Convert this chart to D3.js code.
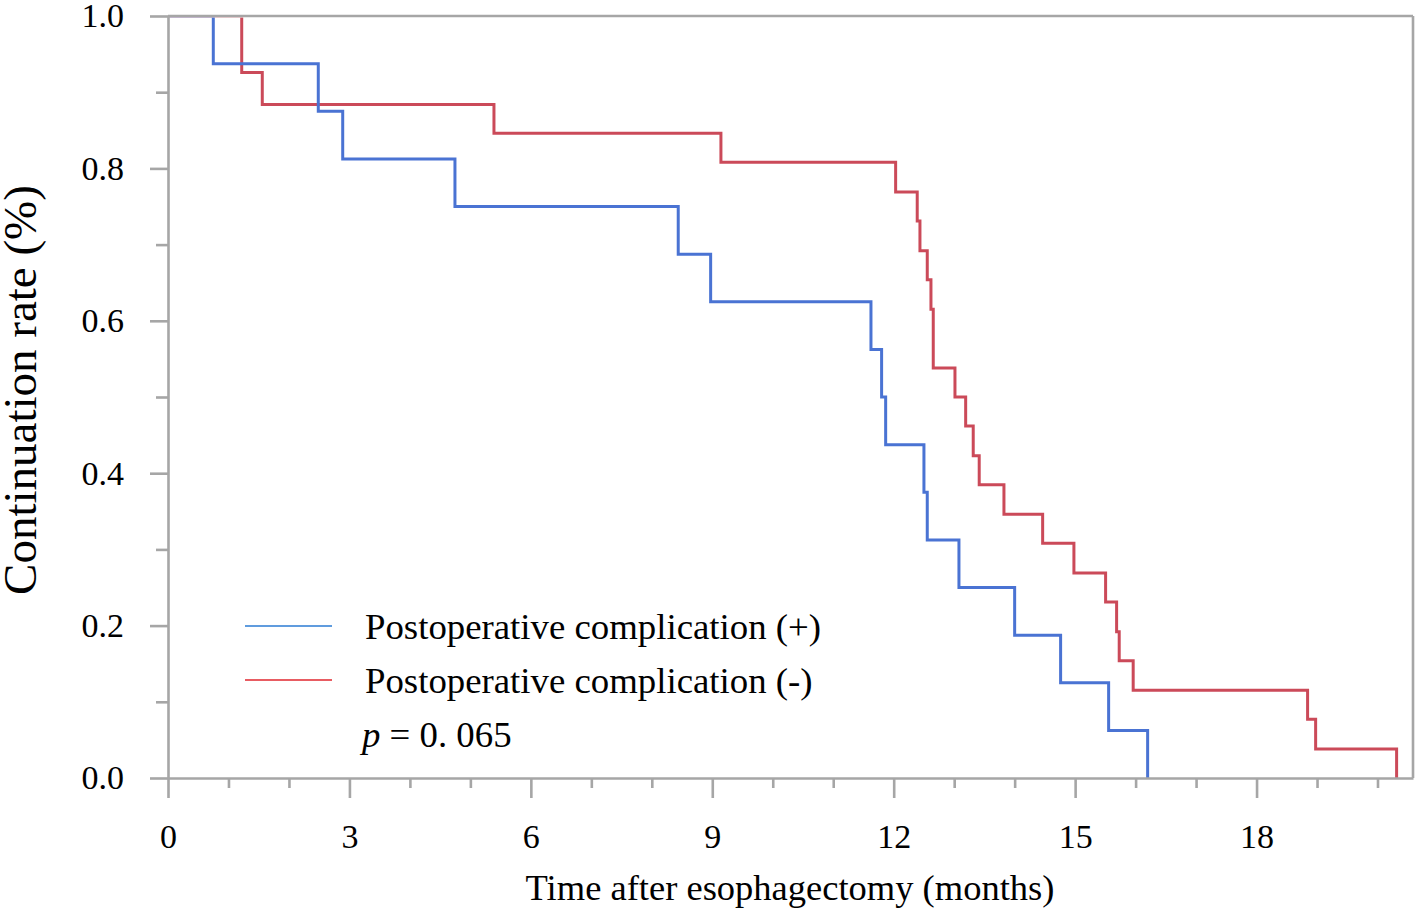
<!DOCTYPE html>
<html>
<head>
<meta charset="utf-8">
<script src="https://cdn.jsdelivr.net/npm/d3@7"></script>
<style>
  html, body { margin: 0; padding: 0; background: #fff; }
  svg { display: block; }
  text { font-family: "Liberation Serif", "Times New Roman", serif; fill: #000; }
</style>
</head>
<body>
<svg id="chart" width="1416" height="908"></svg>
<script>
// ---- Data ----
const bluePlusTimes = [0, 0.749, 2.485, 2.889, 4.745, 8.437, 8.973, 11.624, 11.80, 11.867, 12.50, 12.555, 13.079, 14.0, 14.76, 15.554, 16.199];
const bluePlusSurv  = [1.0, 0.9375, 0.875, 0.8125, 0.75, 0.6875, 0.625, 0.5625, 0.5, 0.4375, 0.375, 0.3125, 0.25, 0.1875, 0.125, 0.0625, 0.0];

const redMinusTimes = [0, 1.219, 1.559, 5.39, 9.143, 12.032, 12.389, 12.434, 12.555, 12.616, 12.654, 13.013, 13.19, 13.315, 13.414, 13.823, 14.463, 14.98, 15.504, 15.686, 15.729, 15.96, 18.844, 18.977, 20.316];
const redMinusSurv  = [1.0, 0.926, 0.884, 0.846, 0.808, 0.769, 0.731, 0.692, 0.654, 0.615, 0.538, 0.5, 0.462, 0.423, 0.385, 0.346, 0.308, 0.269, 0.231, 0.192, 0.154, 0.115, 0.077, 0.038, 0.0];

const xMajorTicks = [0, 3, 6, 9, 12, 15, 18];
const xMinorTicks = [1, 2, 4, 5, 7, 8, 10, 11, 13, 14, 16, 17, 19, 20];
const yMajorTicks = [0, 0.2, 0.4, 0.6, 0.8, 1.0];
const yMinorTicks = [0.1, 0.3, 0.5, 0.7, 0.9];

const seriesNames = ["Postoperative complication (+)", "Postoperative complication (-)"];
const pText = "= 0. 065";
const xTitle = "Time after esophagectomy (months)";
const yTitle = "Continuation rate (%)";

// ---- Layout ----
const svg = d3.select("#chart");
const L = 168, R = 1413, T = 16, B = 778;
const x = d3.scaleLinear().domain([0, 20.587]).range([L, R]);
const y = d3.scaleLinear().domain([0, 1]).range([B, T]);
const axisColor = "#a6a6a6";

svg.append("defs").append("clipPath").attr("id", "plotclip")
  .append("rect").attr("x", L).attr("y", T + 1.5).attr("width", R - L).attr("height", B - T);

// curves
const line = d3.line().x(d => x(d[0])).y(d => y(d[1])).curve(d3.curveStepAfter);
const blueData = bluePlusTimes.map((t, i) => [t, bluePlusSurv[i]]);
const redData = redMinusTimes.map((t, i) => [t, redMinusSurv[i]]);

const plot = svg.append("g").attr("clip-path", "url(#plotclip)");
plot.append("path").datum(redData).attr("d", line)
  .attr("fill", "none").attr("stroke", "#cb4a59").attr("stroke-width", 3);
plot.append("path").datum(blueData).attr("d", line)
  .attr("fill", "none").attr("stroke", "#4a73d3").attr("stroke-width", 3);

// frame top & right
svg.append("line").attr("x1", L).attr("x2", R).attr("y1", T).attr("y2", T)
  .attr("stroke", axisColor).attr("stroke-width", 2.6);
svg.append("line").attr("x1", R).attr("x2", R).attr("y1", T).attr("y2", B)
  .attr("stroke", axisColor).attr("stroke-width", 2.6);

// x axis
svg.append("g").attr("transform", `translate(0,${B})`)
  .call(d3.axisBottom(x).tickValues(xMajorTicks).tickSize(20).tickSizeOuter(0).tickPadding(26).tickFormat(d3.format("d")));
svg.append("g").attr("transform", `translate(0,${B})`)
  .call(d3.axisBottom(x).tickValues(xMinorTicks).tickSize(10).tickSizeOuter(0).tickFormat(""))
  .select(".domain").remove();

// y axis
svg.append("g").attr("transform", `translate(${L},0)`)
  .call(d3.axisLeft(y).tickValues(yMajorTicks).tickSize(18).tickSizeOuter(0).tickPadding(26).tickFormat(d3.format(".1f")));
svg.append("g").attr("transform", `translate(${L},0)`)
  .call(d3.axisLeft(y).tickValues(yMinorTicks).tickSize(12).tickSizeOuter(0).tickFormat(""))
  .select(".domain").remove();

svg.selectAll(".domain, .tick line").attr("stroke", axisColor).attr("stroke-width", 2.6);
svg.selectAll(".tick text").style("font-size", "34px").style("font-family", "'Liberation Serif', 'Times New Roman', serif").attr("fill", "#000");

// axis titles
svg.append("text").attr("x", 790).attr("y", 900).attr("text-anchor", "middle")
  .style("font-size", "36.5px").text(xTitle);
svg.append("text").attr("transform", `translate(36,390) rotate(-90)`).attr("text-anchor", "middle")
  .style("font-size", "47px").text(yTitle);

// legend
const legColors = ["#2b7bd3", "#e0262e"];
const legY = [626, 680];
seriesNames.forEach((name, i) => {
  svg.append("line").attr("x1", 245).attr("x2", 332).attr("y1", legY[i]).attr("y2", legY[i])
    .attr("stroke", legColors[i]).attr("stroke-width", 1.6);
  svg.append("text").attr("x", 365).attr("y", legY[i] + 13).style("font-size", "36.8px").text(name);
});
const pt = svg.append("text").attr("x", 362).attr("y", 747).style("font-size", "36.8px");
pt.append("tspan").style("font-style", "italic").text("p");
pt.append("tspan").text(" " + pText);
</script>
</body>
</html>
